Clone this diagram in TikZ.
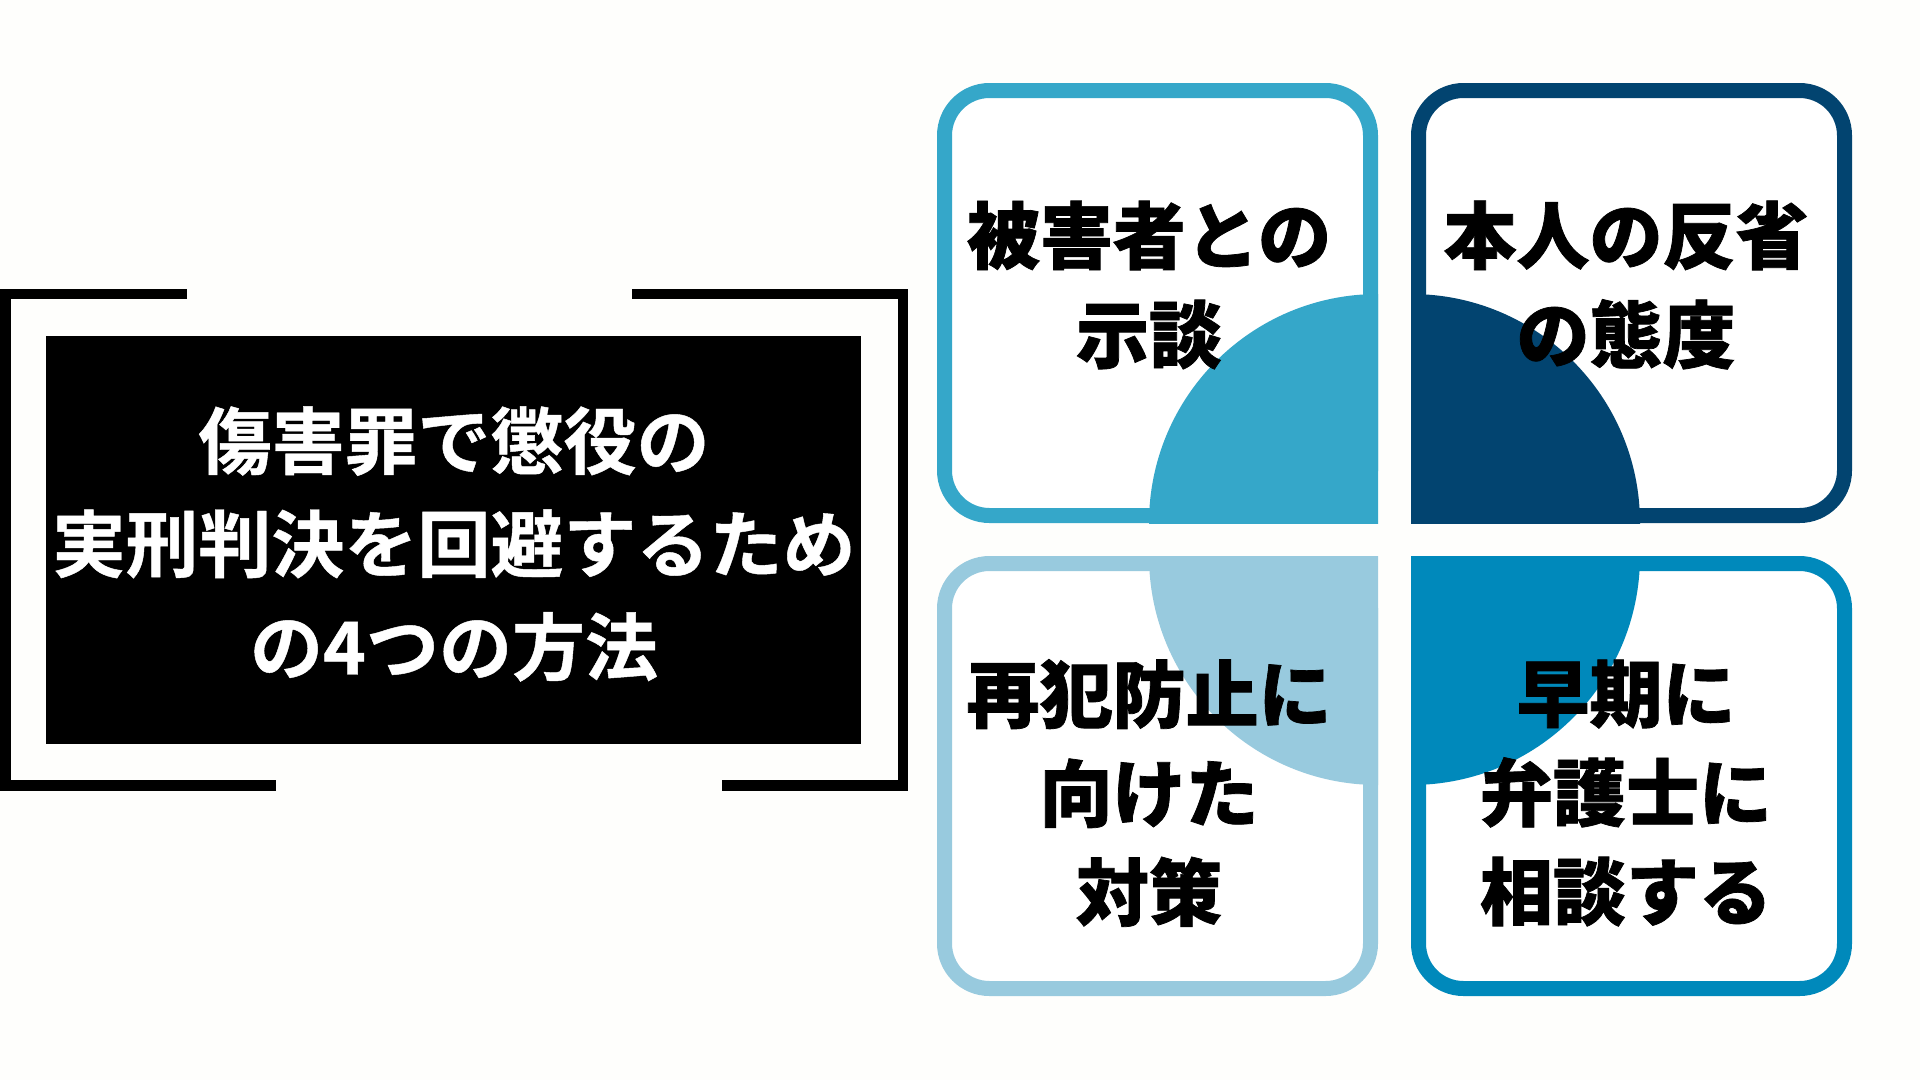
\documentclass[tikz,border=0pt]{standalone}
\usepackage{fontspec}
\IfFontExistsTF{Noto Sans CJK JP Bold}
  {\newfontfamily\titlefont{Noto Sans CJK JP Bold}[FakeBold=0.6]}
  {\newfontfamily\titlefont{Noto Sans CJK JP}[FakeBold=2]}
\IfFontExistsTF{Noto Sans CJK JP Black}
  {\newfontfamily\quadfont{Noto Sans CJK JP Black}[FakeBold=1]}
  {\IfFontExistsTF{Noto Sans CJK JP Bold}
     {\newfontfamily\quadfont{Noto Sans CJK JP Bold}[FakeBold=2.6]}
     {\newfontfamily\quadfont{Noto Sans CJK JP}[FakeBold=4]}}
\definecolor{cA}{RGB}{53,167,201}
\definecolor{cB}{RGB}{2,68,112}
\definecolor{cC}{RGB}{152,202,222}
\definecolor{cD}{RGB}{0,137,187}
\definecolor{bg}{RGB}{254,254,252}
\tikzset{
  framestroke/.style={line width=10.5pt, line join=miter, black},
  titlebox/.style={fill=black, inner sep=0pt, minimum width=815.3pt, minimum height=408.3pt},
  titletext/.style={text=white, align=center, font=\titlefont\fontsize{73}{103}\selectfont},
  quadbox/.style={draw=#1, line width=15pt, rounded corners=45pt, fill=white, minimum width=426pt, minimum height=425pt, inner sep=0pt},
  quadtext/.style={text=black, align=center, font=\quadfont\fontsize{73}{99}\selectfont},
}
\begin{document}
\begin{tikzpicture}[x=1pt,y=-1pt]
\useasboundingbox (0,0) rectangle (1920,1080);
\fill[bg] (0,0) rectangle (1920,1080);
% bracket frame
\coordinate (fl1) at (187,294);
\coordinate (fl2) at (5.5,294);
\coordinate (fl3) at (5.5,785.5);
\coordinate (fl4) at (276,785.5);
\coordinate (fr1) at (632,294);
\coordinate (fr2) at (903,294);
\coordinate (fr3) at (903,785.5);
\coordinate (fr4) at (722,785.5);
\draw[framestroke] (fl1) -- (fl2) -- (fl3) -- (fl4);
\draw[framestroke] (fr1) -- (fr2) -- (fr3) -- (fr4);
% title
\node[titlebox] (title) at (453.35,539.85) {};
\node[titletext] (titlelabel) at (454,544) {傷害罪で懲役の\\実刑判決を回避するため\\の4つの方法};
% quadrant boxes
\node[quadbox=cA] (qa) at (1157.5,303) {};
\node[quadbox=cB] (qb) at (1631.5,303) {};
\node[quadbox=cC] (qc) at (1157.5,776) {};
\node[quadbox=cD] (qd) at (1631.5,776) {};
% quarter discs
\begin{scope}
\clip (1149,294) rectangle (1378,523);
\fill[cA] (1378,523) circle[radius=229pt];
\end{scope}
\begin{scope}
\clip (1411,294) rectangle (1640,523);
\fill[cB] (1411,523) circle[radius=229pt];
\end{scope}
\begin{scope}
\clip (1149,556) rectangle (1378,785);
\fill[cC] (1378,556) circle[radius=229pt];
\end{scope}
\begin{scope}
\clip (1411,556) rectangle (1640,785);
\fill[cD] (1411,556) circle[radius=229pt];
\end{scope}
% texts
\node[quadtext] (ta) at (1149,285) {被害者との\\示談};
\node[quadtext] (tb) at (1626,285) {本人の反省\\の態度};
\node[quadtext] (tc) at (1149,793) {再犯防止に\\向けた\\対策};
\node[quadtext] (td) at (1626,793) {早期に\\弁護士に\\相談する};
\end{tikzpicture}
\end{document}
